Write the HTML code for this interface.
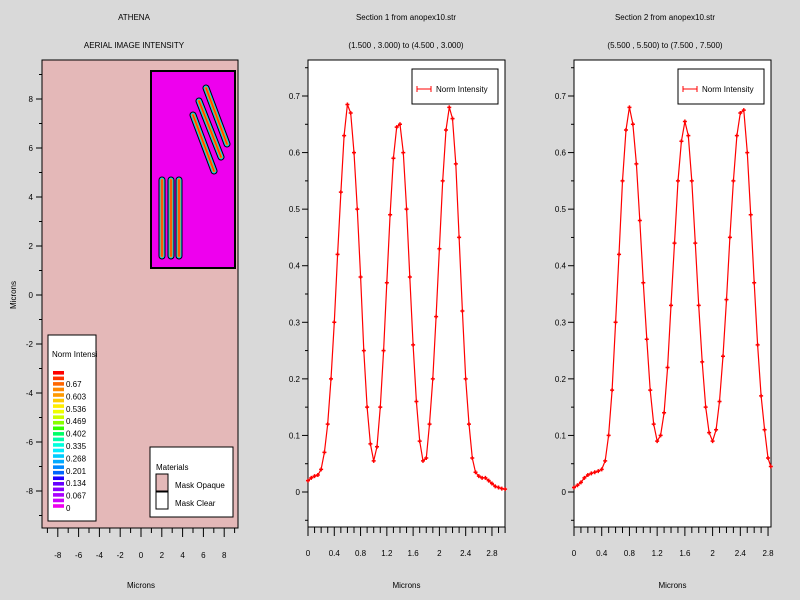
<!DOCTYPE html>
<html><head><meta charset="utf-8"><style>
body{margin:0;background:#d9d9d9;}
svg{display:block;font-family:"Liberation Sans",sans-serif;font-size:8px;}
</style></head><body>
<svg id="c" width="800" height="600" viewBox="0 0 800 600"></svg>
<script>
// Section 1 data
const xs1 = [0,0.05,0.1,0.15,0.2,0.25,0.3,0.35,0.4,0.45,0.5,0.55,0.6,0.65,0.7,0.75,0.8,0.85,0.9,0.95,1.0,1.05,1.1,1.15,1.2,1.25,1.3,1.35,1.4,1.45,1.5,1.55,1.6,1.65,1.7,1.75,1.8,1.85,1.9,1.95,2.0,2.05,2.1,2.15,2.2,2.25,2.3,2.35,2.4,2.45,2.5,2.55,2.6,2.65,2.7,2.75,2.8,2.85,2.9,2.95,3.0];
const ys1 = [0.02,0.025,0.028,0.03,0.04,0.07,0.12,0.2,0.3,0.42,0.53,0.63,0.685,0.67,0.6,0.5,0.38,0.25,0.15,0.085,0.055,0.08,0.15,0.25,0.37,0.49,0.59,0.645,0.65,0.6,0.5,0.38,0.26,0.16,0.09,0.055,0.06,0.12,0.2,0.31,0.43,0.55,0.64,0.68,0.66,0.58,0.45,0.32,0.2,0.12,0.06,0.035,0.028,0.025,0.025,0.02,0.015,0.01,0.008,0.006,0.005];
// Section 2 data
const xs2 = [0,0.05,0.1,0.15,0.2,0.25,0.3,0.35,0.4,0.45,0.5,0.55,0.6,0.65,0.7,0.75,0.8,0.85,0.9,0.95,1.0,1.05,1.1,1.15,1.2,1.25,1.3,1.35,1.4,1.45,1.5,1.55,1.6,1.65,1.7,1.75,1.8,1.85,1.9,1.95,2.0,2.05,2.1,2.15,2.2,2.25,2.3,2.35,2.4,2.45,2.5,2.55,2.6,2.65,2.7,2.75,2.8,2.84];
const ys2 = [0.008,0.012,0.017,0.025,0.03,0.033,0.035,0.037,0.04,0.055,0.1,0.18,0.3,0.42,0.55,0.64,0.68,0.65,0.58,0.48,0.37,0.27,0.18,0.12,0.09,0.1,0.14,0.22,0.33,0.44,0.55,0.62,0.655,0.63,0.55,0.44,0.33,0.23,0.15,0.105,0.09,0.11,0.16,0.24,0.34,0.45,0.55,0.63,0.67,0.675,0.6,0.49,0.37,0.26,0.17,0.11,0.06,0.045];
const yTicks = [0,0.1,0.2,0.3,0.4,0.5,0.6,0.7];
const xTicks1 = [0,0.4,0.8,1.2,1.6,2,2.4,2.8];
const colorLabels = ['0.67','0.603','0.536','0.469','0.402','0.335','0.268','0.201','0.134','0.067','0'];
const micronTicks = [-8,-6,-4,-2,0,2,4,6,8];

const S = document.getElementById('c');
const NS='http://www.w3.org/2000/svg';
function mk(tag, attrs, parent){const e=document.createElementNS(NS,tag);for(const k in attrs)e.setAttribute(k,attrs[k]);(parent||S).appendChild(e);return e;}
function txt(x,y,s,anchor){const t=mk('text',{x:x,y:y,'text-anchor':anchor||'middle',fill:'#000'});t.textContent=s;return t;}

// Titles
let t;
t=txt(134,20,'ATHENA');
t=txt(134,48,'AERIAL IMAGE INTENSITY');
t=txt(406,20,'Section 1 from anopex10.str');
t=txt(406,48,'(1.500 , 3.000) to (4.500 , 3.000)');
t=txt(665,20,'Section 2 from anopex10.str');
t=txt(665,48,'(5.500 , 5.500) to (7.500 , 7.500)');

// ---- Left panel ----
const L={x0:42,x1:238,y0:60,y1:528};
const mx=v=>141+v*10.4, my=v=>295-v*24.5;
let r=mk('rect',{x:L.x0,y:L.y0,width:L.x1-L.x0,height:L.y1-L.y0,fill:'#e4b8b8',stroke:'#000','stroke-width':1});

r=mk('rect',{x:151,y:71,width:84,height:197,fill:'#ee00ee',stroke:'#000','stroke-width':2});

function stripe(x1,y1,x2,y2,name){
  const g=mk('g',{});
  
  
  [['#000',7],['#00c8ff',5],['#ff9900',3],['#ff3300',1.2]].forEach(([c,w])=>mk('line',{x1:x1,y1:y1,x2:x2,y2:y2,stroke:c,'stroke-width':w,'stroke-linecap':'round'},g));
}
stripe(162,180,162,256,'vertical-line-1');stripe(171,180,171,256,'vertical-line-2');stripe(179,180,179,256,'vertical-line-3');
stripe(206,88,227,144,'diagonal-line-1');stripe(199,101,221,157,'diagonal-line-2');stripe(193,115,214,171,'diagonal-line-3');
// left axes ticks
for(let v=-9;v<=9;v++){
  const maj=v%2===0;
  mk('line',{x1:L.x0-(maj?6:3),y1:my(v),x2:L.x0,y2:my(v),stroke:'#000'});
  mk('line',{x1:mx(v),y1:L.y1,x2:mx(v),y2:L.y1+(maj?9:5),stroke:'#000'});
}
micronTicks.forEach(v=>{
  let a=txt(33,my(v)+3,String(v),'end');
  let b=txt(mx(v),558,String(v));
});
t=txt(141,588,'Microns');
t=txt(0,0,'Microns');t.setAttribute('transform','translate(16,295) rotate(-90)');
// colorbar legend
const cb=mk('g',{});
mk('rect',{x:48,y:335,width:48,height:186,fill:'#fff',stroke:'#000'},cb);
let ct=txt(52,357,'Norm Intensi','start');cb.appendChild(ct);
const cols=['#ff0000','#ff3300','#ff6600','#ff8800','#ff9900','#ffcc00','#ffee00','#eeff00','#ccff00','#88ff00','#33ff00','#00ff66','#00ffaa','#00ffdd','#00eeff','#00ccff','#00aaff','#0088ff','#0066ff','#2200ff','#6600ff','#8800ff','#aa00ff','#cc00ff','#ee00ee'];
cols.forEach((c,i)=>mk('rect',{x:53,y:371+i*5.55,width:11,height:3.6,fill:c},cb));
colorLabels.forEach((s,i)=>{const a=txt(66,387+i*12.4,s,'start');cb.appendChild(a);});
// materials legend
const ml=mk('g',{});
mk('rect',{x:150,y:447,width:83,height:70,fill:'#fff',stroke:'#000'},ml);
ml.appendChild(txt(156,470,'Materials','start'));
mk('rect',{x:156,y:474,width:12,height:17,fill:'#e4b8b8',stroke:'#000'},ml);
mk('rect',{x:156,y:492,width:12,height:17,fill:'#fff',stroke:'#000'},ml);
ml.appendChild(txt(175,488,'Mask Opaque','start'));
ml.appendChild(txt(175,506,'Mask Clear','start'));

// ---- Line panels ----
function panel(P,xs,ys,xTicks,name){
  const sx=v=>P.x0+v*P.kx, sy=v=>492-v*565.7;
  let bg=mk('rect',{x:P.x0,y:60,width:P.x1-P.x0,height:467,fill:'#fff',stroke:'#000'});
  
  for(let v=-0.05;v<=0.76;v+=0.05){
    const maj=Math.abs(Math.round(v*10)-v*10)<1e-6;
    mk('line',{x1:P.x0-(maj?6:3),y1:sy(v),x2:P.x0,y2:sy(v),stroke:'#000'});
  }
  yTicks.forEach(v=>{const a=txt(P.x0-8,sy(v)+3,String(v),'end');});
  for(let v=0;v<=P.xmax+1e-6;v+=0.1){
    const maj=Math.abs(Math.round(v/0.4)*0.4-v)<1e-6;
    mk('line',{x1:sx(v),y1:527,x2:sx(v),y2:527+(maj?9:6),stroke:'#000'});
  }
  xTicks.forEach(v=>{const a=txt(sx(v),556,String(v));});
  t=txt((P.x0+P.x1)/2,588,'Microns');
  const pts=xs.map((x,i)=>sx(x).toFixed(1)+','+sy(ys[i]).toFixed(1)).join(' ');
  const line=mk('polyline',{points:pts,fill:'none',stroke:'#ff0000','stroke-width':1.2});
  
  xs.forEach((x,i)=>{
    const m=mk('path',{d:`M${sx(x)-2},${sy(ys[i])}h4M${sx(x)},${sy(ys[i])-2}v4`,stroke:'#ff0000','stroke-width':1.5});
    
    
  });
  const lg=mk('g',{});
  const lx=P.x1-93;
  mk('rect',{x:lx,y:69,width:86,height:35,fill:'#fff',stroke:'#000'},lg);
  mk('path',{d:`M${lx+5},89h14M${lx+5},86v6M${lx+19},86v6`,stroke:'#ff0000','stroke-width':1},lg);
  lg.appendChild(txt(lx+24,92,'Norm Intensity','start'));
}
panel({x0:308,x1:505,kx:65.7,xmax:3.0},xs1,ys1,xTicks1,'section1');
panel({x0:574,x1:771,kx:69.3,xmax:2.84},xs2,ys2,xTicks1,'section2');
</script>
</body></html>
